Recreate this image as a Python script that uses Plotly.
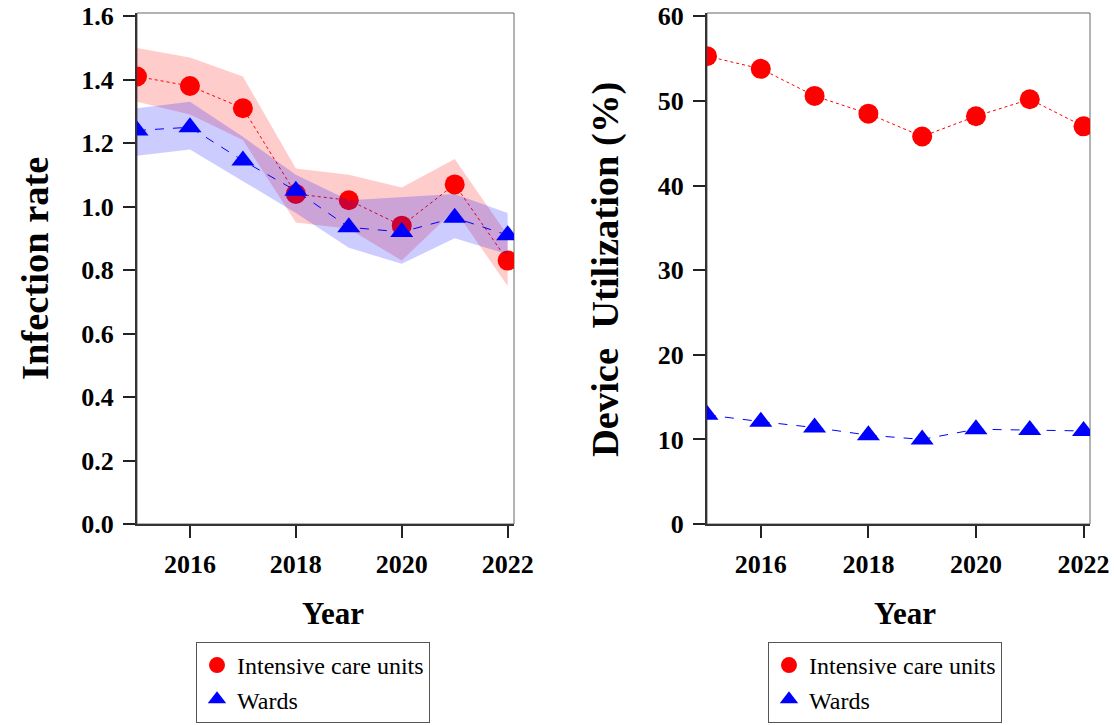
import plotly.graph_objects as go
from plotly.subplots import make_subplots

years = [2015, 2016, 2017, 2018, 2019, 2020, 2021, 2022]

# infection rate (left panel)
icu_rate = [1.41, 1.38, 1.31, 1.04, 1.02, 0.94, 1.07, 0.83]
icu_rate_hi = [1.50, 1.47, 1.41, 1.12, 1.10, 1.06, 1.15, 0.91]
icu_rate_lo = [1.33, 1.29, 1.21, 0.95, 0.93, 0.83, 0.99, 0.75]
ward_rate = [1.24, 1.25, 1.145, 1.05, 0.935, 0.92, 0.965, 0.91]
ward_rate_hi = [1.31, 1.33, 1.22, 1.10, 1.02, 1.03, 1.04, 0.98]
ward_rate_lo = [1.16, 1.18, 1.08, 0.98, 0.87, 0.82, 0.90, 0.85]

# device utilization (right panel)
icu_util = [55.3, 53.8, 50.6, 48.5, 45.8, 48.2, 50.2, 47.0]
ward_util = [12.9, 12.1, 11.4, 10.5, 10.0, 11.2, 11.1, 11.0]

x_ticks = [2016, 2018, 2020, 2022]
rate_ticks = [0.0, 0.2, 0.4, 0.6, 0.8, 1.0, 1.2, 1.4, 1.6]
util_ticks = [0, 10, 20, 30, 40, 50, 60]

RED = "#FF0000"
BLUE = "#0000FF"
SERIF = "Times New Roman, Liberation Serif, serif"
W, H = 1114, 725


def px_x(p):
    return p / W


def px_y(p):
    return (H - p) / H


fig = make_subplots(rows=1, cols=2)


def band(x, hi, lo, color, col):
    fig.add_trace(
        go.Scatter(
            x=x + x[::-1],
            y=hi + lo[::-1],
            fill="toself",
            mode="lines",
            line=dict(width=0),
            fillcolor=color,
            showlegend=False,
            hoverinfo="skip",
        ),
        row=1, col=col,
    )


def series(x, y, color, symbol, dash, col):
    fig.add_trace(
        go.Scatter(
            x=x,
            y=y,
            mode="lines+markers",
            line=dict(color=color, width=1, dash=dash),
            marker=dict(color=color, size=20, symbol=symbol),
            showlegend=False,
        ),
        row=1, col=col,
    )


band(years, icu_rate_hi, icu_rate_lo, "rgba(255,0,0,0.2)", 1)
series(years, icu_rate, RED, "circle", "dot", 1)
band(years, ward_rate_hi, ward_rate_lo, "rgba(0,0,255,0.2)", 1)
series(years, ward_rate, BLUE, "triangle-up", "dash", 1)

series(years, icu_util, RED, "circle", "dot", 2)
series(years, ward_util, BLUE, "triangle-up", "dash", 2)

# legend-only entries
for legend_name in ["legend", "legend2"]:
    fig.add_trace(go.Scatter(x=[None], y=[None], mode="markers", name="Intensive care units",
                             marker=dict(color=RED, size=20, symbol="circle"), legend=legend_name))
    fig.add_trace(go.Scatter(x=[None], y=[None], mode="markers", name="Wards",
                             marker=dict(color=BLUE, size=20, symbol="triangle-up"), legend=legend_name))

tick_font = dict(family=SERIF, size=26, color="black", weight="bold")
axis_common = dict(
    showline=True, linecolor="#333333", linewidth=2,
    ticks="outside", ticklen=12, tickwidth=1.5, tickcolor="#222222",
    showgrid=False, zeroline=False, tickfont=tick_font, automargin=False,
)

y_dom = [px_y(524), px_y(13)]
fig.update_xaxes(axis_common, row=1, col=1, domain=[px_x(137), px_x(514)],
                 range=[2015, 2022.12], tickvals=x_ticks, ticklabelstandoff=4)
fig.update_xaxes(axis_common, row=1, col=2, domain=[px_x(707), px_x(1090)],
                 range=[2015, 2022.12], tickvals=x_ticks, ticklabelstandoff=4)
fig.update_yaxes(axis_common, row=1, col=1, domain=y_dom, range=[0, 1.61],
                 tickvals=rate_ticks, tickformat=".1f", ticklabelstandoff=4)
fig.update_yaxes(axis_common, row=1, col=2, domain=y_dom, range=[0, 60.4],
                 tickvals=util_ticks, ticklabelstandoff=4)

# thin frame around each panel
for x0, x1 in [(137, 514), (707, 1090)]:
    fig.add_shape(type="rect", xref="paper", yref="paper",
                  x0=px_x(x0), x1=px_x(x1), y0=px_y(524), y1=px_y(13),
                  line=dict(color="#666666", width=1), layer="below")

title_font = dict(family=SERIF, size=38.5, color="black", weight="bold")
fig.add_annotation(text="Infection rate", x=px_x(35), y=px_y(269), xref="paper", yref="paper",
                   textangle=-90, showarrow=False, font=title_font,
                   xanchor="center", yanchor="middle")
fig.add_annotation(text="Device  Utilization (%)", x=px_x(605), y=px_y(270), xref="paper", yref="paper",
                   textangle=-90, showarrow=False, font=title_font,
                   xanchor="center", yanchor="middle")
for cx in [333, 905]:
    fig.add_annotation(text="Year", x=px_x(cx), y=px_y(613), xref="paper", yref="paper",
                       showarrow=False, xanchor="center", yanchor="middle",
                       font=dict(family=SERIF, size=31, color="black", weight="bold"))

legend_style = dict(
    yanchor="bottom", xanchor="left",
    bgcolor="white", bordercolor="#555555", borderwidth=1,
    font=dict(family=SERIF, size=24, color="black"),
    tracegroupgap=0,
)
fig.update_layout(
    width=W, height=H,
    margin=dict(l=0, r=0, t=0, b=0),
    plot_bgcolor="white",
    paper_bgcolor="white",
    legend=dict(legend_style, x=px_x(196), y=px_y(723)),
    legend2=dict(legend_style, x=px_x(768), y=px_y(723)),
)

fig.write_html("out.html", config={"displayModeBar": False},
               post_script="document.body.style.margin = '0';")
